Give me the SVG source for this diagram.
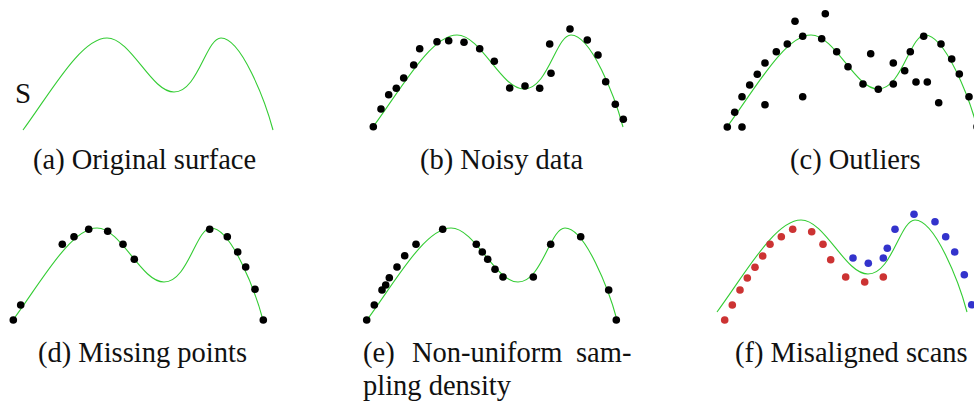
<svg xmlns="http://www.w3.org/2000/svg" width="974" height="407" viewBox="0 0 974 407">
<rect width="974" height="407" fill="#fff"/>
<defs>
<path id="curve" d="M0,0 C28,-38 58,-92 84,-92 C108,-92 128,-38 151,-38 C175,-38 183,-92 198,-92 C218,-92 242,-30 250,0" fill="none" stroke="#33cc33" stroke-width="1.1"/>
</defs>

<g id="panel-a">
<use href="#curve" transform="translate(23,130)"/>
<text x="15" y="103" font-family="Liberation Serif, serif" font-size="29" fill="#111">S</text>
<text x="33" y="169" font-family="Liberation Serif, serif" font-size="28.5" fill="#111">(a) Original surface</text>
</g>

<g id="panel-b">
<use href="#curve" transform="translate(373,127)"/>
<g fill="#000">
<circle cx="373.3" cy="126.7" r="3.8"/><circle cx="381" cy="109" r="3.8"/><circle cx="388.7" cy="94.7" r="3.8"/><circle cx="396.3" cy="88.3" r="3.8"/><circle cx="403.7" cy="78" r="3.8"/><circle cx="413.7" cy="65" r="3.8"/><circle cx="419.7" cy="48.7" r="3.8"/><circle cx="437" cy="41.7" r="3.8"/><circle cx="448.7" cy="40.7" r="3.8"/><circle cx="464" cy="42.3" r="3.8"/><circle cx="479.7" cy="48.7" r="3.8"/><circle cx="494.3" cy="61.3" r="3.8"/><circle cx="509.7" cy="88" r="3.8"/><circle cx="525" cy="86" r="3.8"/><circle cx="539.7" cy="88.3" r="3.8"/><circle cx="551" cy="73.3" r="3.8"/><circle cx="549.7" cy="44" r="3.8"/><circle cx="570" cy="29" r="3.8"/><circle cx="587.3" cy="40" r="3.8"/><circle cx="598" cy="55" r="3.8"/><circle cx="605.7" cy="81.7" r="3.8"/><circle cx="615.3" cy="104.3" r="3.8"/><circle cx="623.3" cy="119.3" r="3.8"/>
</g>
<text x="420" y="169" font-family="Liberation Serif, serif" font-size="28.5" fill="#111">(b) Noisy data</text>
</g>

<g id="panel-c">
<use href="#curve" transform="translate(727,127)"/>
<g fill="#000">
<circle cx="727.3" cy="127" r="3.8"/><circle cx="742" cy="127" r="3.8"/><circle cx="734.7" cy="112.3" r="3.8"/><circle cx="742" cy="96.7" r="3.8"/><circle cx="749.7" cy="85" r="3.8"/><circle cx="757.3" cy="74.3" r="3.8"/><circle cx="765" cy="63" r="3.8"/><circle cx="765" cy="104.7" r="3.8"/><circle cx="776.3" cy="51.7" r="3.8"/><circle cx="787.3" cy="44" r="3.8"/><circle cx="795" cy="21.3" r="3.8"/><circle cx="802.7" cy="36.3" r="3.8"/><circle cx="802.7" cy="96.7" r="3.8"/><circle cx="821.7" cy="38.7" r="3.8"/><circle cx="825.3" cy="13.7" r="3.8"/><circle cx="836.7" cy="51.7" r="3.8"/><circle cx="848" cy="66.7" r="3.8"/><circle cx="863" cy="84" r="3.8"/><circle cx="870.7" cy="53.7" r="3.8"/><circle cx="878.3" cy="89.3" r="3.8"/><circle cx="893.3" cy="84" r="3.8"/><circle cx="893.3" cy="63" r="3.8"/><circle cx="904.7" cy="70.7" r="3.8"/><circle cx="916" cy="82" r="3.8"/><circle cx="927.3" cy="82" r="3.8"/><circle cx="910.3" cy="51.7" r="3.8"/><circle cx="923.7" cy="36.3" r="3.8"/><circle cx="938.7" cy="102.7" r="3.8"/><circle cx="941" cy="44" r="3.8"/><circle cx="951.7" cy="59" r="3.8"/><circle cx="959.3" cy="74" r="3.8"/><circle cx="969" cy="96.7" r="3.8"/><circle cx="977" cy="126.7" r="3.8"/>
</g>
<text x="790" y="169" font-family="Liberation Serif, serif" font-size="28.5" fill="#111">(c) Outliers</text>
</g>

<g id="panel-d">
<use href="#curve" transform="translate(13,320)"/>
<g fill="#000">
<circle cx="13.3" cy="320" r="3.8"/><circle cx="20.7" cy="305" r="3.8"/><circle cx="62.3" cy="244.3" r="3.8"/><circle cx="74" cy="236.7" r="3.8"/><circle cx="88.7" cy="229.3" r="3.8"/><circle cx="107.7" cy="231.3" r="3.8"/><circle cx="123" cy="244.3" r="3.8"/><circle cx="134.3" cy="259.3" r="3.8"/><circle cx="209.7" cy="229.3" r="3.8"/><circle cx="227.3" cy="236.7" r="3.8"/><circle cx="237.7" cy="252" r="3.8"/><circle cx="245.7" cy="267" r="3.8"/><circle cx="255" cy="289.3" r="3.8"/><circle cx="263.3" cy="320" r="3.8"/>
</g>
<text x="38" y="362" font-family="Liberation Serif, serif" font-size="28.5" fill="#111">(d) Missing points</text>
</g>

<g id="panel-e">
<use href="#curve" transform="translate(367,320)"/>
<g fill="#000">
<circle cx="366.7" cy="320" r="3.8"/><circle cx="374.3" cy="305" r="3.8"/><circle cx="382" cy="290" r="3.8"/><circle cx="385.7" cy="285" r="3.8"/><circle cx="389.3" cy="277.7" r="3.8"/><circle cx="397" cy="267" r="3.8"/><circle cx="404.7" cy="255.7" r="3.8"/><circle cx="416" cy="244.3" r="3.8"/><circle cx="442.7" cy="229.3" r="3.8"/><circle cx="476.3" cy="244.3" r="3.8"/><circle cx="482.3" cy="252" r="3.8"/><circle cx="487.7" cy="259.3" r="3.8"/><circle cx="495" cy="269.3" r="3.8"/><circle cx="503" cy="277" r="3.8"/><circle cx="533.3" cy="277" r="3.8"/><circle cx="550.7" cy="244.3" r="3.8"/><circle cx="580.7" cy="236.7" r="3.8"/><circle cx="608.7" cy="290" r="3.8"/><circle cx="616.3" cy="320" r="3.8"/>
</g>
<text y="362" font-family="Liberation Serif, serif" font-size="28.5" fill="#111"><tspan x="363">(e)</tspan><tspan x="412">Non-uniform</tspan><tspan x="576">sam-</tspan></text>
<text x="363" y="395" font-family="Liberation Serif, serif" font-size="28.5" fill="#111">pling density</text>
</g>

<g id="panel-f">
<use href="#curve" transform="translate(717,312)"/>
<g fill="#cc3333">
<circle cx="724.7" cy="320" r="3.8"/><circle cx="732.3" cy="305" r="3.8"/><circle cx="740" cy="290" r="3.8"/><circle cx="747.3" cy="278" r="3.8"/><circle cx="755" cy="267.3" r="3.8"/><circle cx="762.7" cy="256" r="3.8"/><circle cx="770" cy="244.3" r="3.8"/><circle cx="781.3" cy="236.7" r="3.8"/><circle cx="792.7" cy="229.3" r="3.8"/><circle cx="811.7" cy="231.7" r="3.8"/><circle cx="823" cy="244.3" r="3.8"/><circle cx="830.7" cy="259.7" r="3.8"/><circle cx="845.7" cy="277" r="3.8"/><circle cx="864.7" cy="282" r="3.8"/><circle cx="883.3" cy="277" r="3.8"/>
</g>
<g fill="#3333cc">
<circle cx="853" cy="258" r="3.8"/><circle cx="868.3" cy="263.3" r="3.8"/><circle cx="883.3" cy="258" r="3.8"/><circle cx="887.3" cy="248.3" r="3.8"/><circle cx="895" cy="229.3" r="3.8"/><circle cx="914" cy="214.3" r="3.8"/><circle cx="935" cy="221.7" r="3.8"/><circle cx="945.7" cy="236.7" r="3.8"/><circle cx="954.7" cy="252" r="3.8"/><circle cx="964.3" cy="274.7" r="3.8"/><circle cx="971.7" cy="304.7" r="3.8"/>
</g>
<text x="735" y="362" font-family="Liberation Serif, serif" font-size="28.5" fill="#111">(f) Misaligned scans</text>
</g>
</svg>
